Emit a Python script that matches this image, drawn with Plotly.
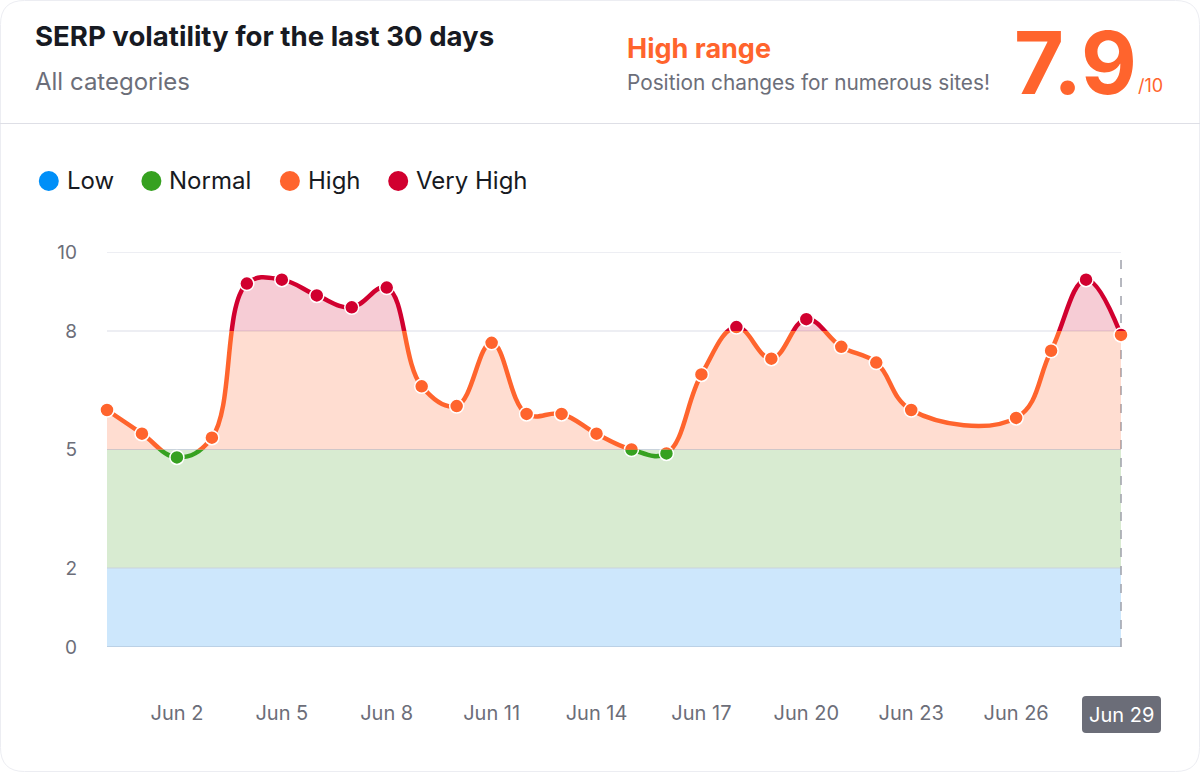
import plotly.graph_objects as go
import pandas as pd

# ---------------- data ----------------
dates = ["2024-05-31", "2024-06-01", "2024-06-02", "2024-06-03", "2024-06-04",
         "2024-06-05", "2024-06-06", "2024-06-07", "2024-06-08", "2024-06-09",
         "2024-06-10", "2024-06-11", "2024-06-12", "2024-06-13", "2024-06-14",
         "2024-06-15", "2024-06-16", "2024-06-17", "2024-06-18", "2024-06-19",
         "2024-06-20", "2024-06-21", "2024-06-22", "2024-06-23", "2024-06-26",
         "2024-06-27", "2024-06-28", "2024-06-29"]
values = [6.0, 5.4, 4.8, 5.3, 9.2,
          9.3, 8.9, 8.6, 9.1, 6.6,
          6.1, 7.7, 5.9, 5.9, 5.4,
          5.0, 4.9, 6.9, 8.1, 7.3,
          8.3, 7.6, 7.2, 6.0, 5.8,
          7.5, 9.3, 7.9]

tick_dates = ["2024-06-02", "2024-06-05", "2024-06-08", "2024-06-11", "2024-06-14",
              "2024-06-17", "2024-06-20", "2024-06-23", "2024-06-26"]
tick_labels = ["Jun 2", "Jun 5", "Jun 8", "Jun 11", "Jun 14",
               "Jun 17", "Jun 20", "Jun 23", "Jun 26"]
last_date = "2024-06-29"
last_label = "Jun 29"
y_ticks = [0, 2, 5, 8, 10]

# zones: (low, high, line colour, fill colour or None)
zone_low = [0, 5, 8]
zone_high = [5, 8, 10]
zone_line_colors = ["#36a120", "#ff642d", "#d1002f"]
zone_fill_colors = [None, "rgba(255,100,45,0.22)", "rgba(209,0,47,0.2)"]

band_low = [0, 2]
band_high = [2, 5]
band_colors = ["#cde7fc", "#d8ebd1"]

legend_labels = ["Low", "Normal", "High", "Very High"]
legend_colors = ["#008ff8", "#36a120", "#ff642d", "#d1002f"]

title_text = "SERP volatility for the last 30 days"
subtitle_text = "All categories"
range_text = "High range"
range_desc = "Position changes for numerous sites!"
score_text = "7.9"
score_max = "/10"

# ---------------- geometry ----------------
FW, FH = 1200, 772
L, R, T, B = 93, 1135, 252, 647
PW, PH = R - L, B - T
YMAX = 10.0


def px(x):
    return (x - L) / PW


def py(y):
    return (B - y) / PH


def rounded_path(x0, y0, x1, y1, r):
    return (f"M {px(x0 + r)},{py(y0)} L {px(x1 - r)},{py(y0)} "
            f"Q {px(x1)},{py(y0)} {px(x1)},{py(y0 + r)} "
            f"L {px(x1)},{py(y1 - r)} Q {px(x1)},{py(y1)} {px(x1 - r)},{py(y1)} "
            f"L {px(x0 + r)},{py(y1)} Q {px(x0)},{py(y1)} {px(x0)},{py(y1 - r)} "
            f"L {px(x0)},{py(y0 + r)} Q {px(x0)},{py(y0)} {px(x0 + r)},{py(y0)} Z")


ORANGE = "#ff642d"
GRAY = "#6c6e79"
DARK = "#171a22"
FONT = "Inter"

d0 = pd.Timestamp(dates[0])
d1 = pd.Timestamp(dates[-1])
pad = pd.Timedelta(hours=9.6)
x_range = [d0 - pad, d1 + pad]

fig = go.Figure()

# zone traces (each on its own clipped y-axis)
for i in range(len(zone_low)):
    yname = f"y{i + 2}"
    fig.add_trace(go.Scatter(
        x=dates, y=values, xaxis="x", yaxis=yname, mode="lines",
        line=dict(color=zone_line_colors[i], width=4.5, shape="spline",
                  smoothing=1.15, simplify=False),
        fill="tozeroy" if zone_fill_colors[i] else "none",
        fillcolor=zone_fill_colors[i] if zone_fill_colors[i] else None,
        hoverinfo="skip", showlegend=False))
for i in range(len(zone_low)):
    yname = f"y{i + 2}"
    fig.add_trace(go.Scatter(
        x=dates, y=values, xaxis="x", yaxis=yname, mode="markers",
        marker=dict(size=14, color=zone_line_colors[i],
                    line=dict(color="white", width=1.5)),
        cliponaxis=True, hoverinfo="skip", showlegend=False))

shapes = []
# bands
for lo, hi, c in zip(band_low, band_high, band_colors):
    shapes.append(dict(type="rect", xref="x", yref="y", x0=dates[0], x1=dates[-1],
                       y0=lo, y1=hi, fillcolor=c, line=dict(width=0), layer="below"))
# grid lines
for v in y_ticks:
    col = "#a9bcd0" if v == 0 else ("#c9d3dc" if v in (2, 5) else "#dcdde8")
    shapes.append(dict(type="line", xref="x", yref="y", x0=dates[0], x1=dates[-1],
                       y0=v, y1=v, line=dict(color=col, width=1.2), layer="below"))
# dashed current-day line
shapes.append(dict(type="line", xref="x", yref="y", x0=last_date, x1=last_date,
                   y0=0, y1=YMAX, line=dict(color="#9fa1ab", width=1.5, dash="dash"),
                   layer="below"))
# header separator
shapes.append(dict(type="line", xref="paper", yref="paper", x0=px(0), x1=px(FW),
                   y0=py(123.5), y1=py(123.5), line=dict(color="#dedfe6", width=1.2)))
# card border
shapes.append(dict(type="path", xref="paper", yref="paper",
                   path=rounded_path(0.5, 0.5, FW - 0.5, FH - 0.5, 24),
                   line=dict(color="#ecedf2", width=1), fillcolor="rgba(0,0,0,0)",
                   layer="below"))
# highlighted last label box
shapes.append(dict(type="path", xref="paper", yref="paper",
                   path=rounded_path(1082, 696, 1161, 733, 4),
                   line=dict(width=0), fillcolor="#6b6d78"))

annotations = []
# legend
leg_cx = [48.8, 151.4, 289.9, 398.2]
for cx, lab, col in zip(leg_cx, legend_labels, legend_colors):
    shapes.append(dict(type="circle", xref="paper", yref="paper",
                       x0=px(cx - 10), x1=px(cx + 10), y0=py(191), y1=py(171),
                       fillcolor=col, line=dict(width=0)))
    annotations.append(dict(xref="paper", yref="paper", x=px(cx + 16), y=py(181),
                            text=lab, showarrow=False, xanchor="left", yanchor="middle",
                            font=dict(family=FONT, size=24, color=DARK)))

# header texts
annotations += [
    dict(xref="paper", yref="paper", x=px(33), y=py(36), text=f"<b>{title_text}</b>",
         showarrow=False, xanchor="left", yanchor="middle",
         font=dict(family=FONT, size=27.6, color=DARK)),
    dict(xref="paper", yref="paper", x=px(33), y=py(82), text=subtitle_text,
         showarrow=False, xanchor="left", yanchor="middle",
         font=dict(family=FONT, size=24, color=GRAY)),
    dict(xref="paper", yref="paper", x=px(625), y=py(49), text=f"<b>{range_text}</b>",
         showarrow=False, xanchor="left", yanchor="middle",
         font=dict(family=FONT, size=27, color=ORANGE)),
    dict(xref="paper", yref="paper", x=px(625), y=py(83), text=range_desc,
         showarrow=False, xanchor="left", yanchor="middle",
         font=dict(family=FONT, size=20.8, color=GRAY)),
    dict(xref="paper", yref="paper", x=px(1139), y=py(63), text=f"<b>{score_text}</b>",
         showarrow=False, xanchor="right", yanchor="middle",
         font=dict(family=FONT, size=86, color=ORANGE)),
    dict(xref="paper", yref="paper", x=px(1136), y=py(85), text=score_max,
         showarrow=False, xanchor="left", yanchor="middle",
         font=dict(family=FONT, size=18, color=ORANGE)),
    dict(xref="x", yref="paper", x=last_date, y=py(714.5), text=last_label,
         showarrow=False, xanchor="center", yanchor="middle",
         font=dict(family=FONT, size=20, color="white")),
]

layout = dict(
    width=FW, height=FH,
    margin=dict(l=L, r=FW - R, t=T, b=FH - B, pad=0),
    paper_bgcolor="white", plot_bgcolor="rgba(0,0,0,0)",
    showlegend=False,
    font=dict(family=FONT),
    xaxis=dict(type="date", range=x_range, domain=[0, 1], anchor="y",
               tickvals=tick_dates, ticktext=tick_labels, showgrid=False,
               zeroline=False, showline=False, ticks="", ticklabelstandoff=52,
               tickfont=dict(family=FONT, size=20, color=GRAY), fixedrange=True),
    yaxis=dict(range=[0, YMAX], domain=[0, 1], anchor="x", tickvals=y_ticks,
               showgrid=False, zeroline=False, showline=False, ticks="",
               ticklabelstandoff=15, tickfont=dict(family=FONT, size=19, color=GRAY),
               fixedrange=True),
    shapes=shapes, annotations=annotations,
)
for i in range(len(zone_low)):
    layout[f"yaxis{i + 2}"] = dict(range=[zone_low[i], zone_high[i]],
                                   domain=[zone_low[i] / YMAX, zone_high[i] / YMAX],
                                   anchor="x", visible=False, fixedrange=True)
fig.update_layout(**layout)

fig.write_html("out.html", config={"displayModeBar": False},
               post_script="document.body.style.margin='0';")
